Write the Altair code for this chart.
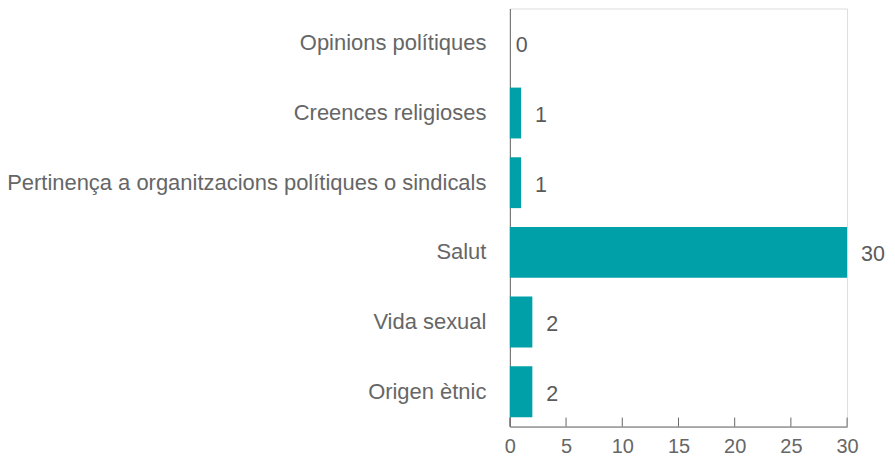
import altair as alt
import pandas as pd

categories = [
    "Opinions polítiques",
    "Creences religioses",
    "Pertinença a organitzacions polítiques o sindicals",
    "Salut",
    "Vida sexual",
    "Origen ètnic",
]
values = [0, 1, 1, 30, 2, 2]
tick_values = [0, 5, 10, 15, 20, 25, 30]

df = pd.DataFrame({"cat": categories, "val": values})
ticks_df = pd.DataFrame({"t": tick_values})

W, H = 338, 419
BAR = "#00a0a9"
GREY = "#666666"
FONT = "Liberation Sans"

xscale = alt.Scale(domain=[0, 30], nice=False)
yscale = alt.Scale(domain=categories, paddingInner=0.27, paddingOuter=0.135)

base = alt.Chart(df)

bars = base.mark_bar(color=BAR).encode(
    x=alt.X(
        "val:Q",
        scale=xscale,
        axis=alt.Axis(
            values=tick_values,
            title=None,
            grid=False,
            tickSize=0,
            labelPadding=10,
            labelFontSize=20,
            labelColor=GREY,
            labelFont=FONT,
            labelFlush=False,
            domainColor=GREY,
            domainWidth=1,
        ),
    ),
    y=alt.Y(
        "cat:N",
        sort=categories,
        scale=yscale,
        axis=alt.Axis(
            title=None,
            ticks=False,
            labelPadding=24,
            labelFontSize=22,
            labelColor=GREY,
            labelFont=FONT,
            labelLimit=600,
            domainColor=GREY,
            domainWidth=1,
        ),
    ),
)

labels_pos = base.transform_filter("datum.val > 0").mark_text(
    align="left", baseline="middle", dx=14, dy=3, fontSize=21.5, color="#5a5a5a", font=FONT
).encode(
    x=alt.X("val:Q", scale=xscale),
    y=alt.Y("cat:N", sort=categories, scale=yscale),
    text="val:Q",
)

labels_zero = base.transform_filter("datum.val == 0").mark_text(
    align="left", baseline="middle", dx=6, dy=3, fontSize=21.5, color="#5a5a5a", font=FONT
).encode(
    x=alt.X("val:Q", scale=xscale),
    y=alt.Y("cat:N", sort=categories, scale=yscale),
    text="val:Q",
)

tick_marks = alt.Chart(ticks_df).mark_rule(color=GREY, strokeWidth=1).encode(
    x=alt.X("t:Q", scale=xscale),
    y=alt.value(H - 9),
    y2=alt.value(H),
)

chart = (
    alt.layer(bars, tick_marks, labels_pos, labels_zero)
    .properties(
        width=W,
        height=H,
        autosize=alt.AutoSizeParams(type="none"),
        padding={"left": 503, "top": 0, "right": 40, "bottom": 34},
    )
    .configure_view(stroke=None)
    .configure(background="white")
)

chart.save("out.html", embed_options={"renderer": "svg", "actions": False})
